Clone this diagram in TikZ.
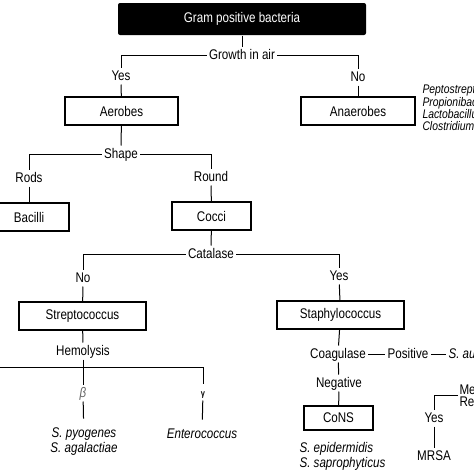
\documentclass[tikz,border=0pt]{standalone}
\usepackage{fontspec}
\setmainfont[FakeStretch=0.83]{Liberation Sans}
\usetikzlibrary{calc, positioning}

\begin{document}
\begin{tikzpicture}[x=1pt, y=-1pt, line width = 1pt,
  font = \fontsize{14}{15}\selectfont,
  box/.style = {draw, line width = 1.1pt, minimum height = 28pt, inner sep = 2pt},
  lbl/.style = {inner sep = 2pt, text height = 10pt, text depth = 2pt},
  spp/.style = {font = \fontsize{14}{15}\selectfont\itshape, inner xsep = 2pt, inner ysep = 9pt}]
\useasboundingbox (0,0) rectangle (474,474);
\fill[white] (0,0) rectangle (474,474);
\clip (0,0) rectangle (474,474);
\node[fill = black, text = white, rounded corners = 2pt, minimum width = 248pt, minimum height = 32pt] (gram) at (242,19) {Gram positive bacteria};
\node[lbl] (growth) at (242,55) {Growth in air};
\node[lbl] (yesair) at (121,76) {Yes};
\node[lbl] (noair) at (358,77) {No};
\node[box, minimum width = 113pt] (aerob) at (121.5,111) {Aerobes};
\node[box, minimum width = 114pt] (anaerob) at (358,111) {Anaerobes};
\node[anchor = west, align = left, inner sep = 1pt, font = \fontsize{12.5}{12.3}\selectfont\itshape] (anaspp) at (421,108) {Peptostreptococcus\\Propionibacterium\\Lactobacillus\\Clostridium};
\node[lbl] (shape) at (121,154) {Shape};
\node[lbl] (rods) at (29,178) {Rods};
\node[lbl] (round) at (211,177) {Round};
\node[box, minimum width = 80pt] (bacilli) at (29,217) {Bacilli};
\node[box, minimum width = 79pt] (cocci) at (211.5,216) {Cocci};
\node[lbl] (catalase) at (211,254) {Catalase};
\node[lbl] (nocat) at (83,278) {No};
\node[lbl] (yescat) at (339,276) {Yes};
\node[box, minimum width = 127pt] (strep) at (82.5,316) {Streptococcus};
\node[box, minimum width = 127pt] (staph) at (340.5,315) {Staphylococcus};
\node[lbl] (hemo) at (83,351) {Hemolysis};
\coordinate (alpha) at (-40,367);
\node[lbl, text = black!60, font = \fontsize{14}{15}\selectfont\itshape] (beta) at (83,393) {β};
\node[lbl, font = \fontsize{9}{10}\selectfont\bfseries] (gamma) at (203,392) {γ};
\node[spp, align = center] (spyo) at (84,442) {S. pyogenes\\S. agalactiae};
\node[spp] (entero) at (202,434) {Enterococcus};
\node[lbl] (coag) at (338,354) {Coagulase};
\node[lbl] (pos) at (408,354) {Positive};
\node[lbl, anchor = west, font = \fontsize{14}{15}\selectfont\itshape] (saur) at (446,354) {S. aureus};
\node[lbl] (neg) at (339,383) {Negative};
\node[draw, line width = 2pt, minimum width = 69pt, minimum height = 24pt] (cons) at (338.5,418) {CoNS};
\node[spp, anchor = west, align = left, inner ysep = 2pt] (sepi) at (297,456) {S. epidermidis\\S. saprophyticus};
\node[anchor = west, align = left, inner sep = 1pt, font = \fontsize{14}{12}\selectfont] (meth) at (458,395) {Methicillin\\Resistance};
\node[lbl] (yesmr) at (434,418) {Yes};
\node[lbl] (mrsa) at (434,456) {MRSA};
\draw (gram) -- (growth);
\draw (growth) -| (yesair);
\draw (growth) -| (noair);
\draw (yesair) -- (aerob);
\draw (noair) -- (anaerob);
\draw (aerob) -- (shape);
\draw (shape) -| (rods);
\draw (shape) -| (round);
\draw (rods) -- (bacilli);
\draw (round) -- (cocci);
\draw (cocci) -- (catalase);
\draw (catalase) -| (nocat);
\draw (catalase) -| (yescat);
\draw (nocat) -- (strep);
\draw (yescat) -- (staph);
\draw (strep) -- (hemo);
\draw (hemo) -- (beta);
\draw (alpha) -| (gamma);
\draw (beta) -- (spyo);
\draw (gamma) -- (entero);
\draw (staph) -- (coag);
\draw (coag) -- (pos);
\draw (pos) -- (saur);
\draw (coag) -- (neg);
\draw (neg) -- (cons);
\draw (meth) -| (yesmr);
\draw (yesmr) -- (mrsa);
\end{tikzpicture}
\end{document}
